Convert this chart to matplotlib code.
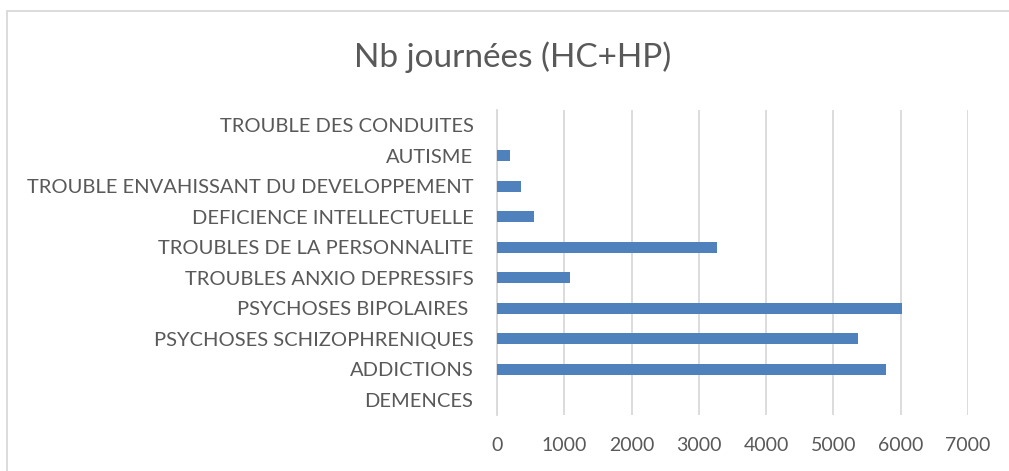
import matplotlib.pyplot as plt
from matplotlib.patches import Rectangle

categories = ["DEMENCES", "ADDICTIONS", "PSYCHOSES SCHIZOPHRENIQUES", "PSYCHOSES BIPOLAIRES ",
              "TROUBLES ANXIO DEPRESSIFS", "TROUBLES DE LA PERSONNALITE",
              "DEFICIENCE INTELLECTUELLE", "TROUBLE ENVAHISSANT DU DEVELOPPEMENT",
              "AUTISME", "TROUBLE DES CONDUITES"]
values = [0, 5780, 5370, 6015, 1090, 3275, 555, 355, 190, 0]
xticks = [0, 1000, 2000, 3000, 4000, 5000, 6000, 7000]

plt.rcParams['font.family'] = ['Lato', 'DejaVu Sans']

fig = plt.figure(figsize=(10.09, 4.71), dpi=100)
ax = fig.add_axes([497 / 1009, 1 - 415 / 471, (968 - 497) / 1009, (415 - 110) / 471])

ax.barh(range(len(categories)), values, height=0.35, color="#4f81bd", zorder=3)
ax.set_xlim(0, 7000)
ax.set_ylim(-0.5, len(categories) - 0.5)
ax.set_xticks(xticks)
ax.set_yticks(range(len(categories)))
ax.set_yticklabels(categories)
ax.grid(axis="x", color="#d9d9d9", linewidth=1.3)
ax.set_axisbelow(True)
for s in ["top", "right", "bottom"]:
    ax.spines[s].set_visible(False)
ax.spines["left"].set_color("#d9d9d9")
ax.spines["left"].set_linewidth(1.3)
ax.tick_params(axis="x", length=0, colors="#595959", labelsize=14, pad=16)
ax.tick_params(axis="y", length=0, colors="#595959", labelsize=14.5, pad=17)

fig.text(0.5085, 1 - 57 / 471, "Nb journées (HC+HP)", ha="center", va="center",
         fontsize=24, color="#595959")

fig.patches.append(Rectangle((7 / 1009, -0.1), 1.2, 1 - 11 / 471 + 0.1,
                             transform=fig.transFigure, fill=False,
                             edgecolor="#d9d9d9", linewidth=1.3))

fig.savefig("out.png", dpi=100)
